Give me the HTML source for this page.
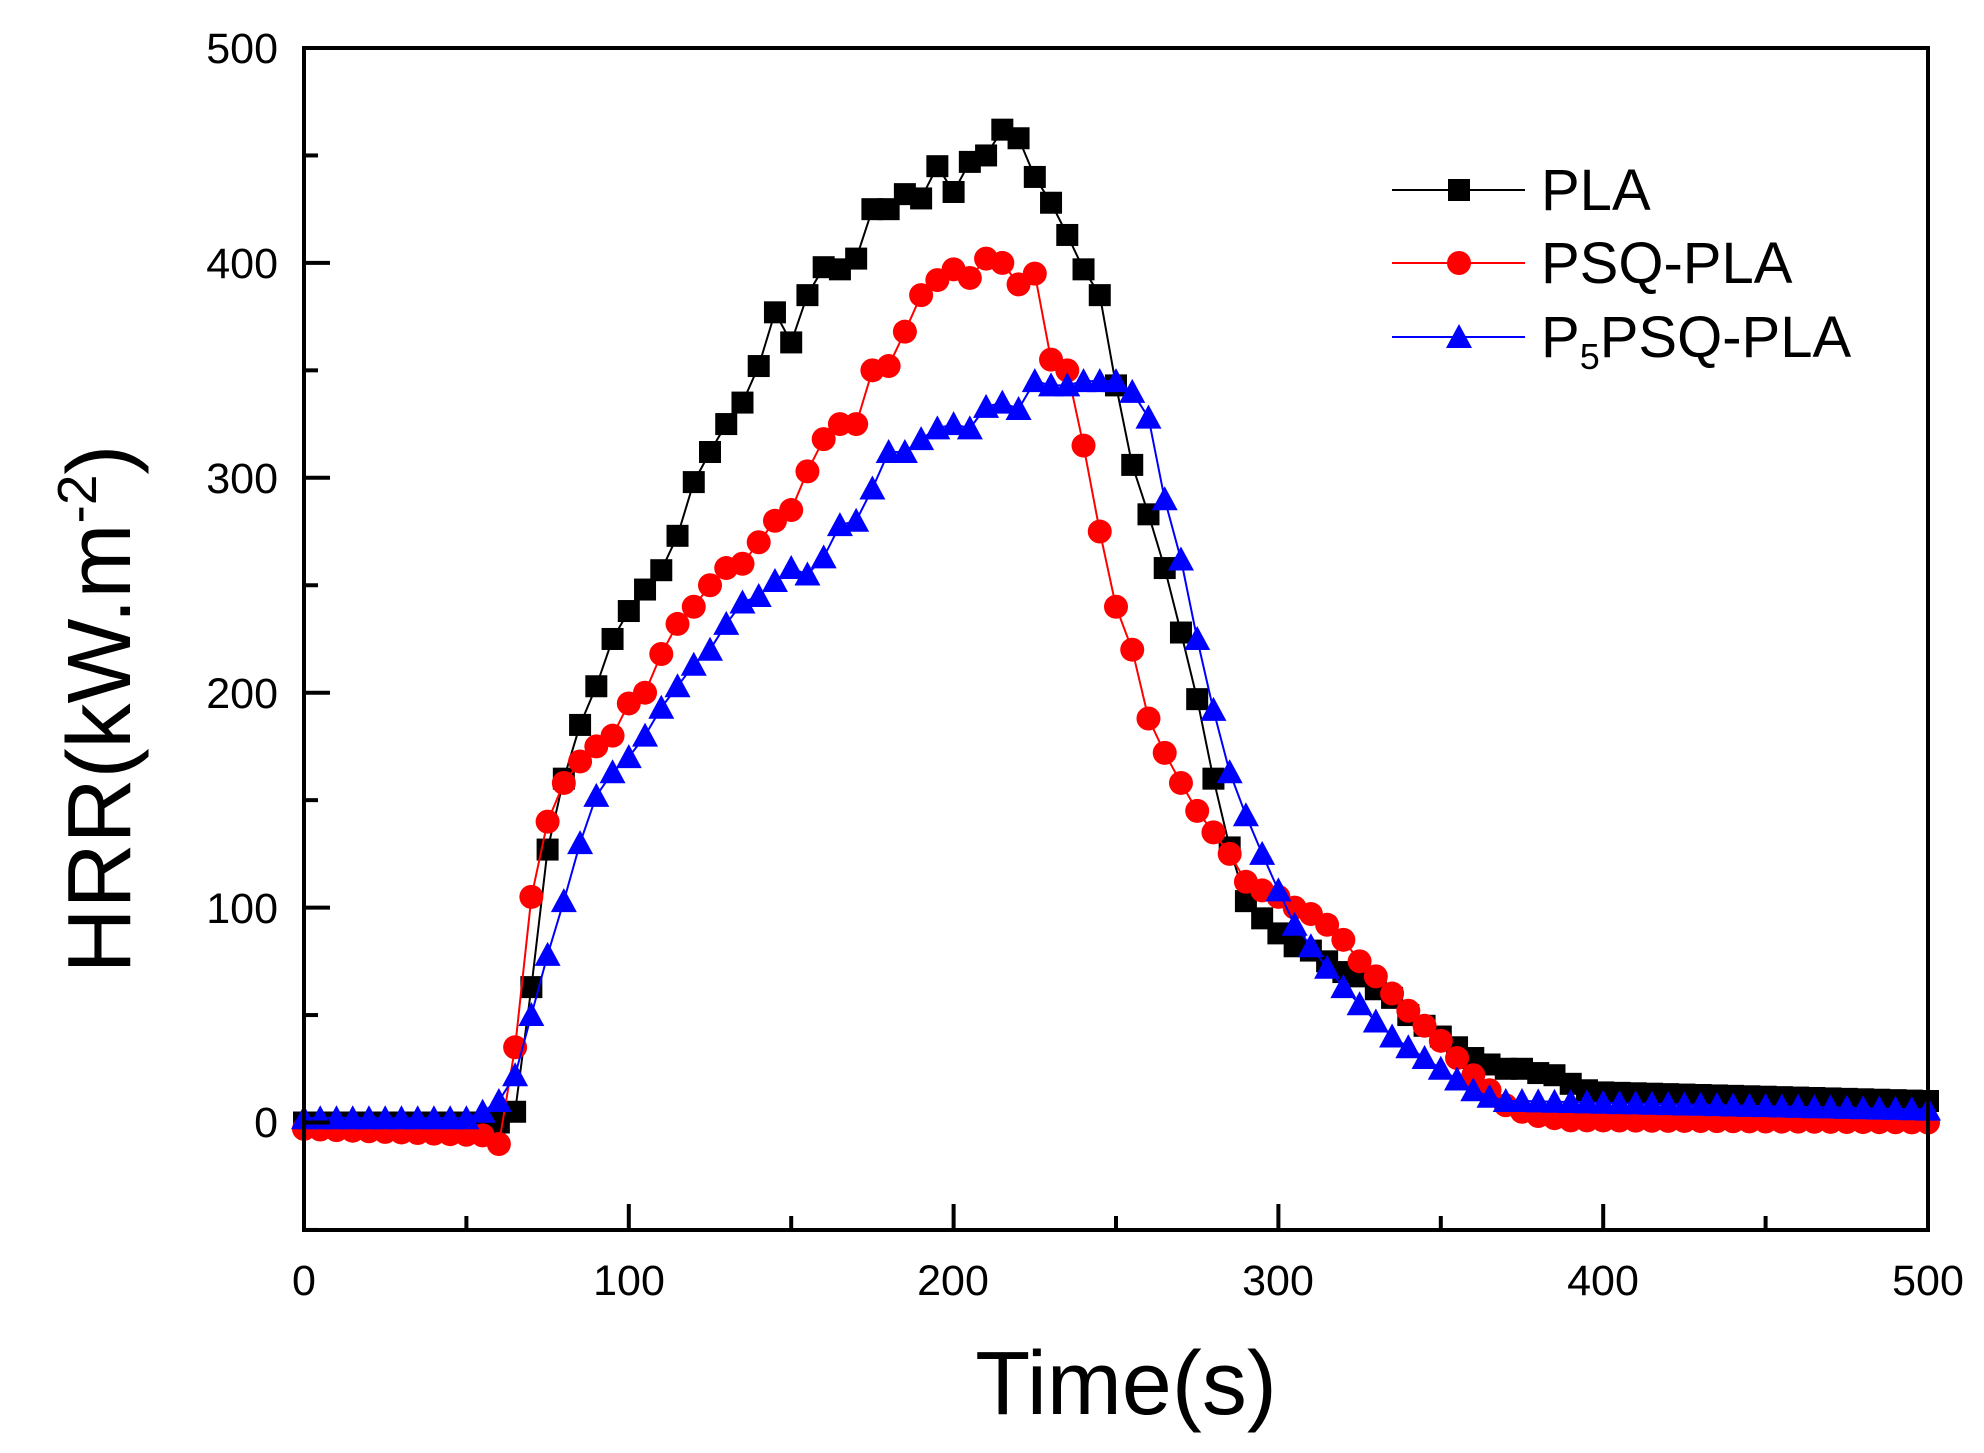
<!DOCTYPE html>
<html><head><meta charset="utf-8"><style>html,body{margin:0;padding:0;background:#fff}svg{display:block}text{font-family:"Liberation Sans",sans-serif}</style></head>
<body>
<svg id="s" width="1984" height="1453" xmlns="http://www.w3.org/2000/svg">
<rect width="1984" height="1453" fill="#fff"/>
<g id="d"></g>
<rect x="304" y="48" width="1624" height="1182" fill="none" stroke="#000" stroke-width="4"/>
<g id="ax"></g>
<g font-size="43" text-anchor="middle" fill="#000">
<text x="304" y="1295">0</text><text x="629" y="1295">100</text><text x="953" y="1295">200</text><text x="1278" y="1295">300</text><text x="1603" y="1295">400</text><text x="1928" y="1295">500</text>
</g>
<g font-size="43" text-anchor="end" fill="#000">
<text x="278" y="63">500</text><text x="278" y="278">400</text><text x="278" y="493">300</text><text x="278" y="708">200</text><text x="278" y="923">100</text><text x="278" y="1137">0</text>
</g>
<text x="1126" y="1414" font-size="90" text-anchor="middle">Time(s)</text>
<text transform="translate(130,709) rotate(-90)" font-size="90" text-anchor="middle">HRR(kW.m<tspan font-size="55" dy="-34">-2</tspan><tspan dy="34">)</tspan></text>
<g font-size="58">
<line x1="1392" y1="190" x2="1525" y2="190" stroke="#000" stroke-width="2"/><rect x="1448" y="179" width="22" height="22" fill="#000"/><text x="1541" y="210">PLA</text>
<line x1="1392" y1="263" x2="1525" y2="263" stroke="#f00" stroke-width="2"/><circle cx="1459" cy="263" r="12" fill="#f00"/><text x="1541" y="283">PSQ-PLA</text>
<line x1="1392" y1="337" x2="1525" y2="337" stroke="#00f" stroke-width="2"/><polygon points="1459,324 1472,348 1446,348" fill="#00f"/><text x="1541" y="357">P<tspan font-size="36" dy="12">5</tspan><tspan dy="-12">PSQ-PLA</tspan></text>
</g>
</svg>
<script>
const X=t=>304+t*3.248, Y=v=>48+(500-v)*2.149;
function fill(a,from,to,v0,v1){const o=[];for(let t=from;t<=to;t+=5){o.push(v0+(v1-v0)*(t-from)/(to-from));}return o;}
const pla=[].concat(fill(0,0,60,0,0),[5,63,127,160,185,203,225,238,248,257,273,298,312,325,335,352,377,363,385,398,397,402,425,425,432,430,445,433,447,450,462,458,440,428,413,397,385,343,306,283,258,228,197,160,128,103,95,88,82,80,75,70,68,62,58,50,45,40,35,30,27,25,25,23,22,18,15],fill(0,400,500,14,10));
const psq=[].concat(fill(0,0,55,-3,-6),[-10,35,105,140,158,168,175,180,195,200,218,232,240,250,258,260,270,280,285,303,318,325,325,350,352,368,385,392,397,393,402,400,390,395,355,350,315,275,240,220,188,172,158,145,135,125,112,108,105,100,97,92,85,75,68,60,52,45,38,30,22,15,8,5,3,2,1],fill(0,395,500,1,0));
const p5=[].concat(fill(0,0,50,2,2),[5,10,22,50,78,103,130,152,163,170,180,193,203,213,220,232,242,245,252,258,255,263,278,280,295,312,312,318,323,325,323,333,335,332,345,343,343,345,345,345,340,328,290,262,225,192,163,143,125,108,92,82,72,63,55,47,40,35,30,25,20,15,12,10],fill(0,375,500,10,6));
let h='';
function ser(arr,col,mk){let p=arr.slice(0,101).map((v,i)=>X(i*5).toFixed(1)+','+Y(v).toFixed(1)).join(' ');
h+=`<polyline points="${p}" fill="none" stroke="${col}" stroke-width="2"/>`;
arr.slice(0,101).forEach((v,i)=>{const x=X(i*5),y=Y(v);
if(mk=='s')h+=`<rect x="${x-11}" y="${y-11}" width="22" height="22" fill="${col}"/>`;
else if(mk=='c')h+=`<circle cx="${x}" cy="${y}" r="12" fill="${col}"/>`;
else h+=`<polygon points="${x},${y-13} ${x+13},${y+11} ${x-13},${y+11}" fill="${col}"/>`;});}
ser(pla,'#000','s');ser(psq,'#f00','c');ser(p5,'#00f','t');
document.getElementById('d').innerHTML=h;
let a='';
for(let t=0;t<=500;t+=50){const x=X(t),L=t%100==0?26:14;a+=`<line x1="${x}" y1="1230" x2="${x}" y2="${1230-L}" stroke="#000" stroke-width="4"/>`;}
for(let v=-50;v<=500;v+=50){const y=Y(v),L=v%100==0?26:14;a+=`<line x1="304" y1="${y}" x2="${304+L}" y2="${y}" stroke="#000" stroke-width="4"/>`;}
document.getElementById('ax').innerHTML=a;
</script>
</body></html>
